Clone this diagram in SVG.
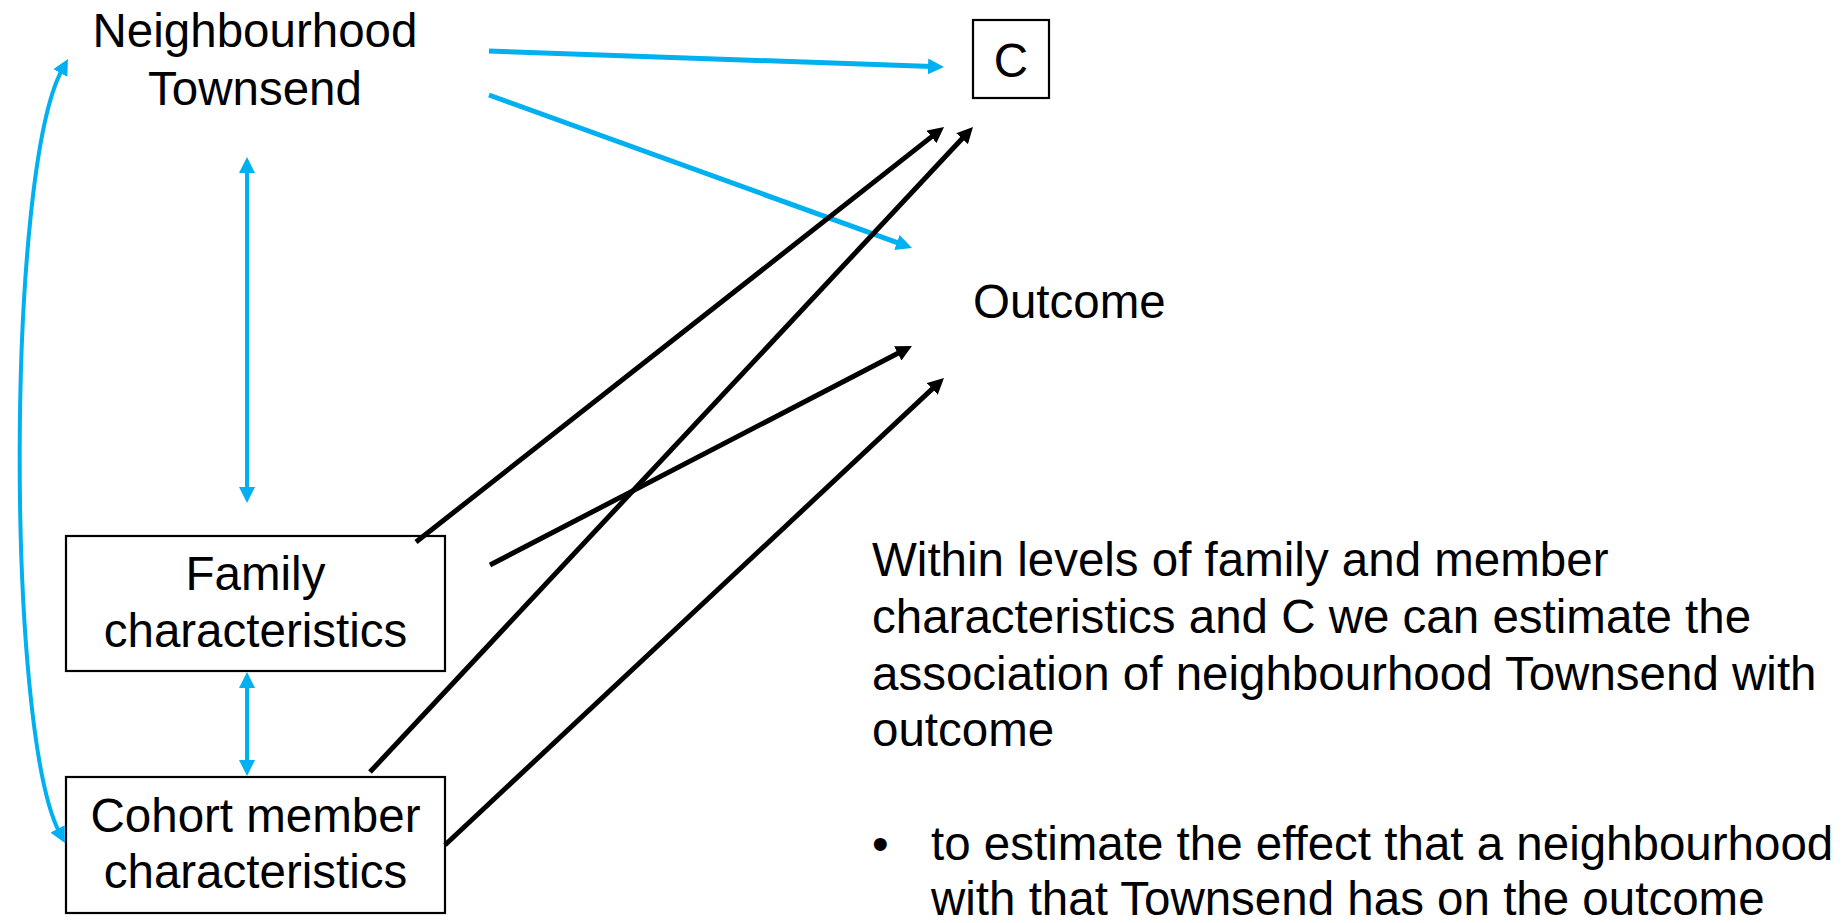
<svg xmlns="http://www.w3.org/2000/svg" width="1847" height="923" viewBox="0 0 1847 923">
<style>
text{font-family:"Liberation Sans",Arial,sans-serif;font-size:47.5px;fill:#000}
.c{text-anchor:middle}
.box{fill:none;stroke:#000;stroke-width:2.2}
.blue{fill:none;stroke:#00B0F0;stroke-width:5}
.blue2{fill:none;stroke:#00B0F0;stroke-width:4}
.blk{fill:none;stroke:#000;stroke-width:5}
</style>
<defs>
<marker id="hb" viewBox="0 0 16 16" markerWidth="16" markerHeight="16" refX="4" refY="8" orient="auto-start-reverse" markerUnits="userSpaceOnUse">
<path d="M0,0 L16,8 L0,16 Z" fill="#00B0F0"/>
</marker>
<marker id="hk" viewBox="0 0 16 16" markerWidth="16" markerHeight="16" refX="4" refY="8" orient="auto-start-reverse" markerUnits="userSpaceOnUse">
<path d="M0,0 L16,8 L0,16 Z" fill="#000"/>
</marker>
</defs>
<g id="node-neighbourhood">
<text class="c" x="255" y="47">Neighbourhood</text>
<text class="c" x="255" y="105">Townsend</text>
</g>
<g id="node-c">
<rect class="box" x="973" y="20" width="76" height="78"/>
<text class="c" x="1011" y="77">C</text>
</g>
<g id="node-outcome">
<text x="973" y="318">Outcome</text>
</g>
<g id="node-family">
<rect class="box" x="66" y="536" width="379" height="135"/>
<text class="c" x="255.5" y="590">Family</text>
<text class="c" x="255.5" y="647">characteristics</text>
</g>
<g id="node-cohort">
<rect class="box" x="66" y="777" width="379" height="136"/>
<text class="c" x="255.5" y="832">Cohort member</text>
<text class="c" x="255.5" y="888">characteristics</text>
</g>
<g id="connectors">
<path class="blue2" d="M62.2,69.5 C6,172 6,730 59.4,832.4" marker-start="url(#hb)" marker-end="url(#hb)"/>
<line class="blue2" x1="247" y1="169" x2="247" y2="491" marker-start="url(#hb)" marker-end="url(#hb)"/>
<line class="blue2" x1="247" y1="684" x2="247" y2="764" marker-start="url(#hb)" marker-end="url(#hb)"/>
<line class="blue" x1="489" y1="51" x2="932" y2="66.6" marker-end="url(#hb)"/>
<line class="blue" x1="489" y1="95" x2="900.7" y2="243.9" marker-end="url(#hb)"/>
<line class="blk" x1="416" y1="542" x2="934.6" y2="134.4" marker-end="url(#hk)"/>
<line class="blk" x1="370" y1="772" x2="964.8" y2="135.8" marker-end="url(#hk)"/>
<line class="blk" x1="490" y1="565" x2="901.3" y2="351.5" marker-end="url(#hk)"/>
<line class="blk" x1="445" y1="845" x2="935.2" y2="386.2" marker-end="url(#hk)"/>
</g>
<g id="note">
<text x="872" y="576">Within levels of family and member</text>
<text x="872" y="633">characteristics and C we can estimate the</text>
<text x="872" y="690">association of neighbourhood Townsend with</text>
<text x="872" y="746">outcome</text>
<text x="872" y="860">•</text>
<text x="931" y="860">to estimate the effect that a neighbourhood</text>
<text x="931" y="915">with that Townsend has on the outcome</text>
</g>
</svg>
